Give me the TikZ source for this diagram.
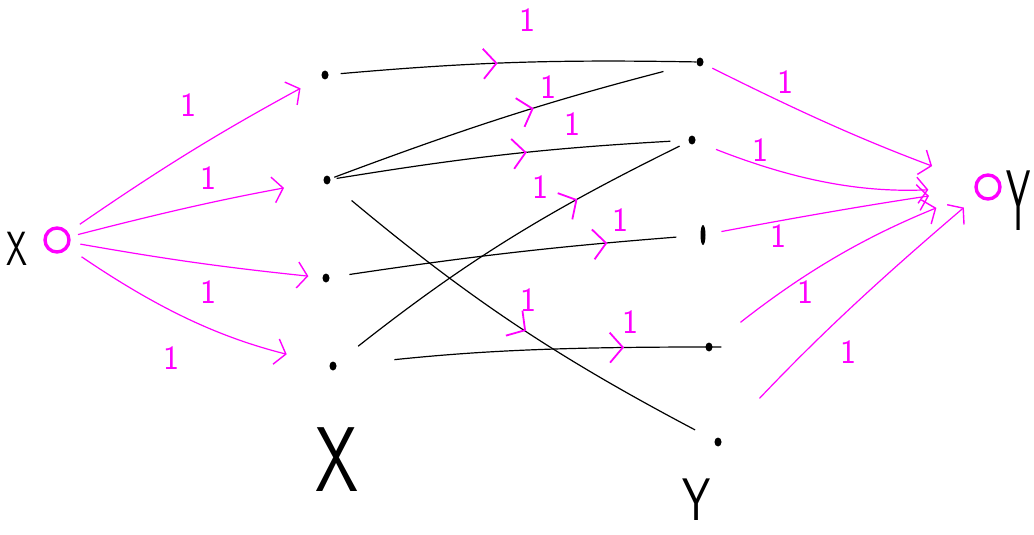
\documentclass[tikz,border=0pt]{standalone}
\usetikzlibrary{arrows.meta,decorations.markings,shapes.geometric}
\definecolor{mag}{RGB}{255,0,255}
\tikzset{
  vdot/.style={ellipse,fill=black,inner sep=0pt,minimum width=7pt,minimum height=9pt},
  term/.style={circle,draw=mag,line width=3.4pt,inner sep=0pt,minimum size=24pt},
  medge/.style={draw=mag,line width=1.2pt,-{Straight Barb[length=10pt,width=26pt,line width=1.4pt]}},
  bedge/.style={draw=black,line width=1.2pt,postaction={decorate},
    decoration={markings,mark=at position #1 with {\arrow[mag,line width=1.8pt]{Straight Barb[length=13pt,width=30pt]}}}},
  wlabel/.style={text=mag,font=\sffamily\fontsize{34}{34}\selectfont,inner sep=0pt},
  setlabel/.style={font=\sffamily\fontsize{#1}{#1}\selectfont,inner sep=0pt},
}
\begin{document}
\begin{tikzpicture}[x=1pt,y=-1pt]
\useasboundingbox (0,0) rectangle (1034,535);
% terminals
\node[term] (s) at (57,240) {};
\node[term] (t) at (988,187) {};
% left side
\node[vdot] (x1) at (325,75) {};
\node[vdot] (x2) at (327,180) {};
\node[vdot] (x3) at (326,278) {};
\node[vdot] (x4) at (333,366) {};
% right side
\node[vdot] (y1) at (700,62) {};
\node[vdot] (y2) at (692,140) {};
\node[vdot,minimum height=20pt,minimum width=5pt] (y3) at (703,235) {};
\node[vdot] (y4) at (709,347) {};
\node[vdot] (y5) at (718,442) {};
% set labels
\node[setlabel=48,xscale=0.7] (lx) at (17,249) {X};
\node[setlabel=86,xscale=0.45] (ly) at (1019,201) {Y};
\node[setlabel=92,xscale=0.75] (bx) at (337,460) {X};
\node[setlabel=60,xscale=0.75] (by) at (697,500) {Y};
% source edges
\draw[medge,shorten <=14pt,shorten >=24pt] (s) to[bend left=3] (x1);
\draw[medge,shorten <=8pt,shorten >=40pt] (s) to[bend left=2] (x2);
\draw[medge,shorten <=10pt,shorten >=14pt] (s) to[bend right=2] (x3);
\draw[medge,shorten <=16pt,shorten >=44pt] (s) to[bend right=10] (x4);
\node[wlabel] (ls1) at (188,105) {1};
\node[wlabel] (ls2) at (208,178) {1};
\node[wlabel] (ls3) at (208,292) {1};
\node[wlabel] (ls4) at (171,358) {1};
% middle edges
\draw[bedge=0.46,shorten <=12pt] (x1) to[bend left=3] (y1);
\draw[bedge=0.56,shorten <=4pt,shorten >=34pt] (x2) to[bend left=3] (y1);
\draw[bedge=0.55,shorten <=6pt,shorten >=18pt] (x2) to[bend left=3] (y2);
\draw[bedge=0.53,shorten <=28pt,shorten >=22pt] (x2) to[bend right=6] (y5);
\draw[bedge=0.75,shorten <=20pt,shorten >=24pt] (x3) to[bend left=2] (y3);
\draw[bedge=0.7,shorten <=28pt,shorten >=10pt] (x4) to[bend left=6] (y2);
\draw[bedge=0.78,shorten <=58pt,shorten >=-16pt] (x4) to[bend left=3] (y4);
\node[wlabel] (l11) at (527,20) {1};
\node[wlabel] (l21) at (548,87) {1};
\node[wlabel] (l22) at (572,124) {1};
\node[wlabel] (l42) at (540,187) {1};
\node[wlabel] (l33) at (620,220) {1};
\node[wlabel] (l25) at (528,300) {1};
\node[wlabel] (l44) at (630,322) {1};
% sink edges
\draw[medge,shorten <=10pt,shorten >=46pt] (y1) to[bend right=3] (t);
\draw[medge,shorten <=22pt,shorten >=46pt] (y2) to[bend right=12] (t);
\draw[medge,shorten <=16pt,shorten >=46pt] (y3) to[bend left=1] (t);
\draw[medge,shorten <=36pt,shorten >=42pt] (y4) to[bend left=8] (t);
\draw[medge,shorten <=56pt,shorten >=18pt] (y5) to[bend left=3] (t);
\node[wlabel] (lt1) at (785,82) {1};
\node[wlabel] (lt2) at (760,150) {1};
\node[wlabel] (lt3) at (778,236) {1};
\node[wlabel] (lt4) at (805,292) {1};
\node[wlabel] (lt5) at (848,352) {1};
\end{tikzpicture}
\end{document}
